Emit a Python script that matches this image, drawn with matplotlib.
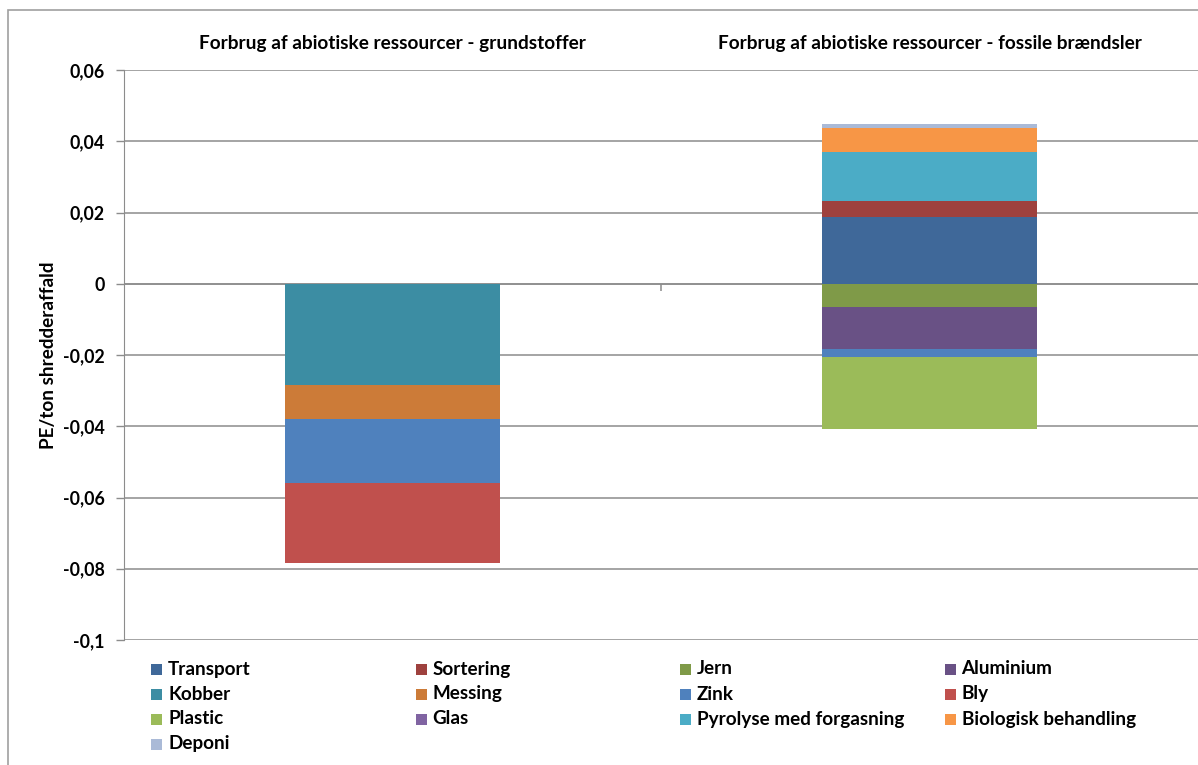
import numpy as np
import matplotlib.pyplot as plt
from matplotlib.patches import Rectangle
from matplotlib.ticker import FixedLocator, FuncFormatter
import matplotlib.transforms as mtransforms

plt.rcParams['font.family'] = ['Lato', 'DejaVu Sans']
plt.rcParams['font.weight'] = 'bold'

categories = ['Forbrug af abiotiske ressourcer - grundstoffer',
              'Forbrug af abiotiske ressourcer - fossile brændsler']

series_names = ['Transport', 'Sortering', 'Jern', 'Aluminium',
                'Kobber', 'Messing', 'Zink', 'Bly',
                'Plastic', 'Glas', 'Pyrolyse med forgasning', 'Biologisk behandling',
                'Deponi']

# PE/ton shredderaffald per category (grundstoffer, fossile brændsler)
transport = [0.0, 0.0186]
sortering = [0.0, 0.0045]
jern = [0.0, -0.0064]
aluminium = [0.0, -0.0119]
kobber = [-0.0284, 0.0]
messing = [-0.0096, 0.0]
zink = [-0.0180, -0.0022]
bly = [-0.0225, 0.0]
plastic = [0.0, -0.0204]
glas = [0.0, 0.0]
pyrolyse = [0.0, 0.0140]
biologisk = [0.0, 0.0067]
deponi = [0.0, 0.0010]

series_values = [transport, sortering, jern, aluminium, kobber, messing, zink,
                 bly, plastic, glas, pyrolyse, biologisk, deponi]

colors = ['#3F6899', '#9E413E', '#7F9A48', '#695185',
          '#3C8DA3', '#CC7B38', '#4F81BD', '#C0504D',
          '#9BBB59', '#8064A2', '#4BACC6', '#F79646',
          '#AABAD7']

W, H = 1198, 765
fig = plt.figure(figsize=(W / 100, H / 100), dpi=100)
ax = fig.add_axes([124 / W, (H - 640) / H, 1074 / W, 570 / H])

x = np.arange(len(categories))
pos_bottom = np.zeros(len(categories))
neg_bottom = np.zeros(len(categories))
for vals, col in zip(series_values, colors):
    vals = np.array(vals)
    bottom = np.where(vals >= 0, pos_bottom, neg_bottom)
    ax.bar(x, vals, width=0.4, bottom=bottom, color=col, linewidth=0, zorder=3)
    pos_bottom += np.clip(vals, 0, None)
    neg_bottom += np.clip(vals, None, 0)

ax.set_xlim(-0.5, 1.5)
ax.set_ylim(-0.1, 0.06)

grid_col = '#8C8C8C'
ax.yaxis.set_major_locator(FixedLocator(np.round(np.arange(-0.1, 0.061, 0.02), 2)))
ax.yaxis.set_major_formatter(FuncFormatter(lambda v, p: f'{round(v, 2):g}'.replace('.', ',')))
ax.grid(axis='y', color=grid_col, linewidth=1.1, zorder=0)
ax.tick_params(axis='y', length=6, width=1, color=grid_col, labelsize=12.8, pad=8)
for lbl in ax.get_yticklabels():
    lbl.set_fontweight('bold')

for side in ['top', 'right', 'bottom']:
    ax.spines[side].set_visible(False)
ax.spines['left'].set_color(grid_col)

# category axis sits at zero, with divider ticks between categories
ax.set_xticks([])
ax.axhline(0, color=grid_col, linewidth=1.1, zorder=2)
ax.vlines([0.5], -0.0019, 0, color=grid_col, linewidth=1.1, zorder=2)

ax.set_ylabel('PE/ton shredderaffald', fontsize=13.6, fontweight='bold', labelpad=4)

trans = mtransforms.blended_transform_factory(ax.transData, fig.transFigure)
for xi, cat in zip(x, categories):
    fig.text(xi, (H - 44) / H, cat, transform=trans, ha='center', va='center',
             fontsize=13.7, fontweight='bold')

# legend laid out row by row in four columns
for i, (name, col) in enumerate(zip(series_names, colors)):
    row, c = divmod(i, 4)
    px = 151 + c * 264.5
    py = H - (669 + row * 25)
    fig.add_artist(Rectangle((px / W, (py - 5.5) / H), 11 / W, 11 / H,
                             transform=fig.transFigure, color=col, linewidth=0))
    fig.text((px + 17) / W, py / H, name, ha='left', va='center',
             fontsize=13.6, fontweight='bold')

# chart frame
fig.add_artist(Rectangle((8 / W, -0.1), 1.2, (H - 10) / H + 0.1,
                         transform=fig.transFigure, fill=False,
                         edgecolor='#A0A0A0', linewidth=1.2))

fig.savefig('out.png', dpi=100)
